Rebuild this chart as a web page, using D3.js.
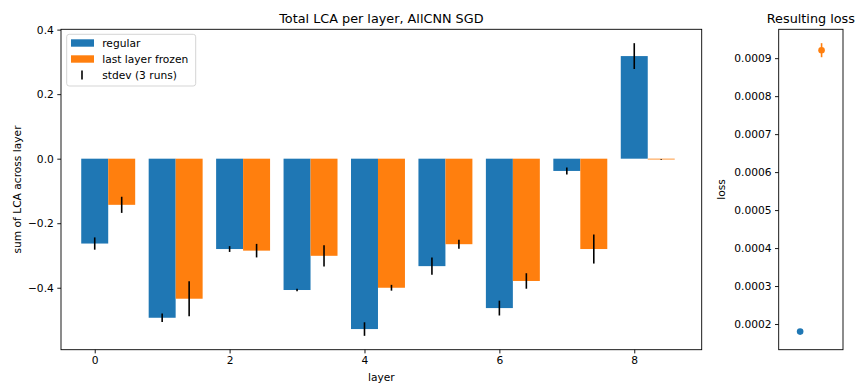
<!DOCTYPE html>
<html>
<head>
<meta charset="utf-8">
<script src="https://cdn.jsdelivr.net/npm/d3@7"></script>
<style>
  html, body { margin: 0; padding: 0; background: #fff; }
  svg { display: block; font-family: "DejaVu Sans", sans-serif; }
  .tick text { font-size: 10.67px; fill: #000; font-family: "DejaVu Sans", sans-serif; }
</style>
</head>
<body>
<svg id="chart" width="857" height="383"></svg>
<script>
// Per-layer summed LCA, mean over 3 runs, and its standard deviation
const layers = [0, 1, 2, 3, 4, 5, 6, 7, 8];
const regularMean   = [-0.263, -0.493, -0.280, -0.407, -0.528, -0.333, -0.463, -0.038, 0.318];
const regularStd    = [0.019, 0.013, 0.009, 0.004, 0.021, 0.027, 0.023, 0.011, 0.040];
const frozenMean    = [-0.143, -0.434, -0.285, -0.301, -0.400, -0.265, -0.379, -0.280, -0.002];
const frozenStd     = [0.025, 0.054, 0.021, 0.033, 0.009, 0.014, 0.024, 0.045, 0.001];
const xTicks = [0, 2, 4, 6, 8];
const yTicks = [-0.4, -0.2, 0.0, 0.2, 0.4];

// Final loss for each setup
const lossRuns = ["regular", "last layer frozen"];
const lossMean = [0.000180, 0.000921];
const lossStd  = [0.000003, 0.0000185];
const lossTicks = [0.0002, 0.0003, 0.0004, 0.0005, 0.0006, 0.0007, 0.0008, 0.0009];

const BLUE = "#1f77b4", ORANGE = "#ff7f0e";
const FONT = "DejaVu Sans, sans-serif";
const barWidth = 0.4;

const svg = d3.select("#chart");

// ---------- main panel ----------
const main = { left: 61, right: 701.7, top: 29.3, bottom: 349.7 };
const x = d3.scaleLinear().domain([-0.5, 9.0]).range([main.left, main.right]);
const y = d3.scaleLinear().domain([-0.592, 0.401]).range([main.bottom, main.top]);

const g = svg.append("g");

function drawBars(means, offset, color) {
  g.append("g").selectAll("rect").data(layers).join("rect")
    .attr("x", (d) => x(d + offset - barWidth / 2))
    .attr("width", (d) => x(d + offset + barWidth / 2) - x(d + offset - barWidth / 2))
    .attr("y", (d, i) => y(Math.max(0, means[i])))
    .attr("height", (d, i) => Math.max(0.8, Math.abs(y(means[i]) - y(0))))
    .attr("fill", color);
}
function drawErr(means, stds, offset) {
  g.append("g").selectAll("line").data(layers).join("line")
    .attr("x1", (d) => x(d + offset)).attr("x2", (d) => x(d + offset))
    .attr("y1", (d, i) => y(means[i] - stds[i]))
    .attr("y2", (d, i) => y(means[i] + stds[i]))
    .attr("stroke", "#000").attr("stroke-width", 1.6);
}
drawBars(regularMean, 0, BLUE);
drawBars(frozenMean, barWidth, ORANGE);
drawErr(regularMean, regularStd, 0);
drawErr(frozenMean, frozenStd, barWidth);

// axes
const xAxis = d3.axisBottom(x).tickValues(xTicks).tickFormat(d3.format("d")).tickSize(3.7).tickPadding(3.5);
const yAxis = d3.axisLeft(y).tickValues(yTicks).tickFormat((d) => d3.format(".1f")(d).replace("-", "\u2212")).tickSize(3.7).tickPadding(3.5);
g.append("g").attr("transform", `translate(0,${main.bottom})`).call(xAxis)
  .attr("font-family", FONT)
  .call((s) => s.select(".domain").remove());
g.append("g").attr("transform", `translate(${main.left},0)`).call(yAxis)
  .attr("font-family", FONT)
  .call((s) => s.select(".domain").remove());
g.selectAll(".tick line").attr("stroke", "#000").attr("stroke-width", 0.9);

g.append("rect").attr("x", main.left).attr("y", main.top)
  .attr("width", main.right - main.left).attr("height", main.bottom - main.top)
  .attr("fill", "none").attr("stroke", "#000").attr("stroke-width", 0.9);

g.append("text").attr("x", (main.left + main.right) / 2).attr("y", 22.5)
  .attr("text-anchor", "middle").attr("font-size", 12.8).text("Total LCA per layer, AllCNN SGD");
g.append("text").attr("x", (main.left + main.right) / 2).attr("y", 381)
  .attr("text-anchor", "middle").attr("font-size", 10.67).text("layer");
g.append("text").attr("transform", `translate(21,${(main.top + main.bottom) / 2}) rotate(-90)`)
  .attr("text-anchor", "middle").attr("font-size", 10.67).text("sum of LCA across layer");

// legend
const lg = g.append("g").attr("transform", "translate(66.7,34.3)");
lg.append("rect").attr("width", 129).attr("height", 51.7).attr("rx", 2.5)
  .attr("fill", "#fff").attr("fill-opacity", 0.8).attr("stroke", "#d0d0d0").attr("stroke-width", 0.9);
const legendItems = [
  { label: "regular", kind: "bar", color: BLUE },
  { label: "last layer frozen", kind: "bar", color: ORANGE },
  { label: "stdev (3 runs)", kind: "err", color: "#000" }
];
legendItems.forEach((it, i) => {
  const cy = 8.7 + i * 16;
  if (it.kind === "bar") {
    lg.append("rect").attr("x", 4.3).attr("y", cy - 3.7).attr("width", 23).attr("height", 7.4).attr("fill", it.color);
  } else {
    lg.append("line").attr("x1", 15.3).attr("x2", 15.3).attr("y1", cy - 4.5).attr("y2", cy + 4.5)
      .attr("stroke", it.color).attr("stroke-width", 1.6);
  }
  lg.append("text").attr("x", 35.5).attr("y", cy + 3.8).attr("font-size", 10.67).text(it.label);
});

// ---------- loss panel ----------
const side = { left: 778.7, right: 843, top: 29.3, bottom: 349.7 };
const lx = d3.scaleLinear().domain([-1, 2]).range([side.left, side.right]);
const ly = d3.scaleLinear().domain([0.0001324, 0.000976]).range([side.bottom, side.top]);
const colors = [BLUE, ORANGE];
const s = svg.append("g");

s.append("g").attr("transform", `translate(${side.left},0)`)
  .call(d3.axisLeft(ly).tickValues(lossTicks).tickFormat(d3.format(".4f")).tickSize(3.7).tickPadding(3.5))
  .attr("font-family", FONT)
  .call((a) => a.select(".domain").remove())
  .call((a) => a.selectAll(".tick line").attr("stroke", "#000").attr("stroke-width", 0.9));

s.append("g").selectAll("line").data(lossRuns).join("line")
  .attr("x1", (d, i) => lx(i)).attr("x2", (d, i) => lx(i))
  .attr("y1", (d, i) => ly(lossMean[i] - lossStd[i]))
  .attr("y2", (d, i) => ly(lossMean[i] + lossStd[i]))
  .attr("stroke", (d, i) => colors[i]).attr("stroke-width", 1.6);
s.append("g").selectAll("circle").data(lossRuns).join("circle")
  .attr("cx", (d, i) => lx(i)).attr("cy", (d, i) => ly(lossMean[i]))
  .attr("r", 3.3).attr("fill", (d, i) => colors[i]);

s.append("rect").attr("x", side.left).attr("y", side.top)
  .attr("width", side.right - side.left).attr("height", side.bottom - side.top)
  .attr("fill", "none").attr("stroke", "#000").attr("stroke-width", 0.9);
s.append("text").attr("x", (side.left + side.right) / 2).attr("y", 22.5)
  .attr("text-anchor", "middle").attr("font-size", 12.8).text("Resulting loss");
s.append("text").attr("transform", `translate(725,${(side.top + side.bottom) / 2}) rotate(-90)`)
  .attr("text-anchor", "middle").attr("font-size", 10.67).text("loss");
</script>
</body>
</html>
